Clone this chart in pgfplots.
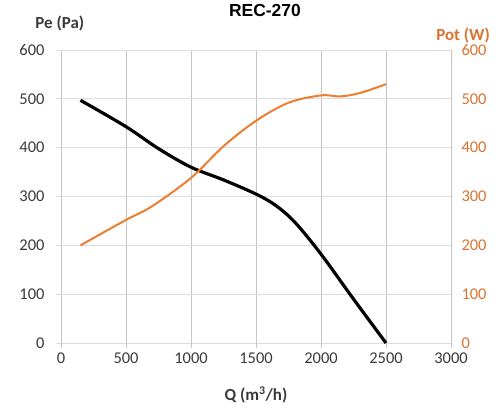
\documentclass[border=0pt]{standalone}
\usepackage{pgfplots}
\pgfplotsset{compat=1.18}
\usepackage{fontspec}
\setmainfont{Carlito}
\newfontfamily\titlefont{Liberation Sans}
\definecolor{exorange}{HTML}{ED7D31}
\definecolor{lblorange}{HTML}{D9732F}
\definecolor{vgrid}{HTML}{C4C4C4}
\definecolor{hgrid}{HTML}{DDDDDD}
\definecolor{txtgray}{HTML}{3A3A3A}
\begin{document}
\begin{tikzpicture}
\path (-61bp,-68bp) rectangle (440bp,343bp);
\begin{axis}[
  at={(0,0)}, anchor=origin,
  scale only axis, width=390bp, height=293bp,
  xmin=0, xmax=3000, ymin=0, ymax=600,
  xtick={0,500,...,3000}, ytick={0,100,...,600},
  axis line style={draw=none},
  axis y line*=left,
  axis x line*=bottom,
  xmajorgrids, ymajorgrids,
  major x grid style={vgrid, line width=1pt},
  major y grid style={hgrid, line width=0.8pt},
  tick align=outside, major tick length=5bp,
  xtick style={vgrid, line width=1pt},
  ytick style={hgrid, line width=0.8pt},
  ticklabel style={font=\fontsize{16.5}{16.5}\selectfont, text=txtgray},
  /pgf/number format/assume math mode=true,
  /pgf/number format/1000 sep={},
  xticklabel style={anchor=center, yshift=-10bp},
  yticklabel style={anchor=east, xshift=-8bp},
  title={\titlefont\bfseries REC-270},
  title style={at={(rel axis cs:0.523,1.113)}, anchor=center, font=\fontsize{17.5}{17.5}\selectfont},
  xlabel={\textbf{Q (m\textsuperscript{3}/h)}},
  xlabel style={at={(rel axis cs:0.5,-0.177)}, anchor=center, font=\fontsize{17}{17}\selectfont, text=txtgray},
  ylabel={\textbf{Pe (Pa)}},
  ylabel style={at={(rel axis cs:-0.003,1.092)}, anchor=center, rotate=-90, font=\fontsize{17}{17}\selectfont, text=txtgray},
]
\addplot[black, line width=3.2pt, smooth, tension=0.55] coordinates {
(150,497) (500,443) (750,398) (1000,360) (1250,334) (1500,305)
(1650,282) (1800,247) (2000,182) (2250,90) (2500,0)
};
\end{axis}
\begin{axis}[
  at={(0,0)}, anchor=origin,
  scale only axis, width=390bp, height=293bp,
  xmin=0, xmax=3000, ymin=0, ymax=600,
  ytick={0,100,...,600},
  axis x line=none,
  axis y line*=right,
  axis line style={draw=none},
  major tick length=0pt,
  ticklabel style={font=\fontsize{16.5}{16.5}\selectfont, text=lblorange},
  /pgf/number format/assume math mode=true,
  yticklabel style={anchor=west, xshift=7bp},
  ylabel={\textbf{Pot (W)}},
  ylabel style={at={(rel axis cs:1.031,1.051)}, anchor=center, rotate=-90, font=\fontsize{17}{17}\selectfont, text=lblorange},
]
\addplot[exorange, line width=2pt, smooth, tension=0.55] coordinates {
(150,200) (500,252) (700,280) (1000,338) (1250,403) (1500,455)
(1750,492) (2000,507) (2150,505) (2300,512) (2500,530)
};
\end{axis}
\end{tikzpicture}
\end{document}
